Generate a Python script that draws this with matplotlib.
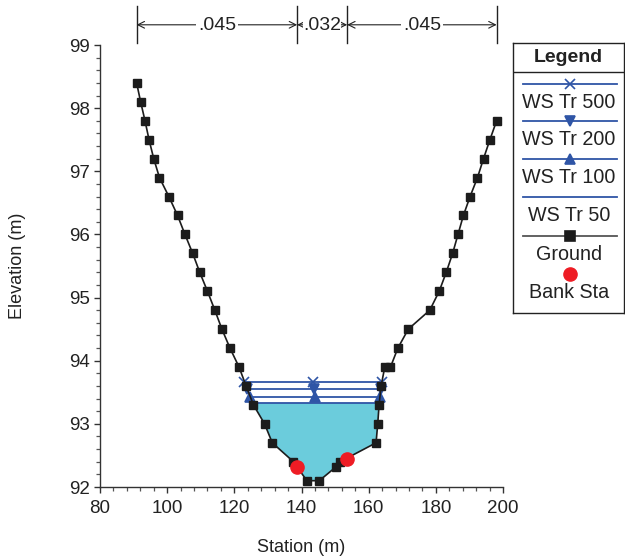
import numpy as np
import matplotlib
matplotlib.use("Agg")
import matplotlib.pyplot as plt
from matplotlib.ticker import MultipleLocator

plt.rcParams['font.family'] = ['Liberation Sans', 'DejaVu Sans']

# ---- data ----
ground_sta = [90.9, 92.1, 93.4, 94.6, 96.0, 97.7, 100.5, 103.1, 105.3, 107.6, 109.7,
              112.0, 114.2, 116.3, 118.7, 121.4, 123.5, 125.7, 129.0, 131.3, 137.6,
              141.6, 145.3, 150.3, 151.5, 162.2, 162.7, 163.1, 163.7, 164.8, 166.5,
              168.7, 171.8, 178.2, 181.0, 183.1, 185.0, 186.6, 188.2, 190.2, 192.4,
              194.2, 196.1, 198.1]
ground_elev = [98.40, 98.10, 97.80, 97.50, 97.20, 96.90, 96.60, 96.30, 96.00, 95.70, 95.40,
               95.10, 94.80, 94.50, 94.20, 93.90, 93.60, 93.30, 93.00, 92.70, 92.40,
               92.10, 92.10, 92.32, 92.40, 92.70, 93.00, 93.30, 93.60, 93.90, 93.90,
               94.20, 94.50, 94.80, 95.10, 95.40, 95.70, 96.00, 96.30, 96.60, 96.90,
               97.20, 97.50, 97.80]
bank_sta = [138.7, 153.6]
bank_elev = [92.31, 92.45]
ws_names = ['WS Tr 500', 'WS Tr 200', 'WS Tr 100', 'WS Tr 50']
ws_elev = [93.67, 93.55, 93.43, 93.33]
ws_markers = ['x', 'v', '^', None]
mann_n = ['.045', '.032', '.045']

WS_COLOR = '#2F55A6'
FILL_COLOR = '#6BCCDC'
GROUND_COLOR = '#1c1c1c'
BANK_COLOR = '#EE1C24'
TXT = '#222222'

gx = np.array(ground_sta)
gy = np.array(ground_elev)
imin = int(np.argmin(gy))


def intersections(level):
    lx, ly = gx[:imin + 1], gy[:imin + 1]
    rx, ry = gx[imin:], gy[imin:]
    xl = np.interp(level, ly[::-1], lx[::-1])
    xr = np.interp(level, ry, rx)
    return xl, xr


fig = plt.figure(figsize=(6.25, 5.59), dpi=100)
ax = fig.add_axes([100 / 625, 1 - 487 / 559, 403 / 625, 442 / 559])

# water fill for lowest WS
xl, xr = intersections(ws_elev[-1])
inside = (gx > xl) & (gx < xr)
px = np.concatenate([[xl], gx[inside], [xr]])
py = np.concatenate([[ws_elev[-1]], gy[inside], [ws_elev[-1]]])
ax.fill(px, py, color=FILL_COLOR, lw=0, zorder=1)

# WS lines
for name, lev, mk in zip(ws_names, ws_elev, ws_markers):
    a, b = intersections(lev)
    xs = [a, (a + b) / 2, b]
    ax.plot(xs, [lev] * 3, color=WS_COLOR, lw=1.3, marker=mk, ms=7,
            mew=1.2, zorder=3)

# ground
ax.plot(gx, gy, color=GROUND_COLOR, lw=1.2, marker='s', ms=6.2, mfc=GROUND_COLOR,
        mec=GROUND_COLOR, zorder=4)
# bank stations
ax.plot(bank_sta, bank_elev, ls='none', marker='o', ms=9.5, color=BANK_COLOR, zorder=5)

ax.set_xlim(80, 200)
ax.set_ylim(92, 99)
ax.xaxis.set_major_locator(MultipleLocator(20))
ax.xaxis.set_minor_locator(MultipleLocator(4))
ax.yaxis.set_major_locator(MultipleLocator(1))
ax.yaxis.set_minor_locator(MultipleLocator(0.2))
for s in ['top', 'right']:
    ax.spines[s].set_visible(False)
for s in ['left', 'bottom']:
    ax.spines[s].set_color('#333333')
    ax.spines[s].set_linewidth(1.0)
ax.tick_params(which='major', direction='out', length=4.5, width=1.0, colors='#333333',
               labelsize=13.5, labelcolor=TXT, pad=2.5)
ax.tick_params(axis='x', which='major', pad=5)
ax.tick_params(which='minor', direction='out', length=3, width=0.9, colors='#555555')
ax.set_xlabel('Station (m)', fontsize=13, color=TXT, labelpad=16)
ax.set_ylabel('Elevation (m)', fontsize=13, color=TXT, labelpad=31)

# Manning's n annotation above plot
bounds = [gx[0], bank_sta[0], bank_sta[1], gx[-1]]
for b in bounds:
    ax.plot([b, b], [99.03, 99.62], color=TXT, lw=1.0, clip_on=False)
for i, txt in enumerate(mann_n):
    a, b = bounds[i], bounds[i + 1]
    ax.annotate('', xy=(a, 99.32), xytext=(b, 99.32), xycoords='data',
                arrowprops=dict(arrowstyle='<->', color=TXT, lw=0.8,
                                shrinkA=0, shrinkB=0, mutation_scale=12),
                annotation_clip=False)
    ax.text((a + b) / 2, 99.31, txt, ha='center', va='center', fontsize=14,
            color=TXT, clip_on=False,
            bbox=dict(facecolor='white', edgecolor='none', pad=1.5 if i != 1 else 0.1))

# custom legend box
lax = fig.add_axes([513 / 625, 1 - 313 / 559, 111 / 625, 270 / 559])
lax.set_xlim(0, 111)
lax.set_ylim(270, 0)
lax.set_xticks([])
lax.set_yticks([])
for s in lax.spines.values():
    s.set_linewidth(1.0)
    s.set_color(TXT)
lax.text(55.5, 15, 'Legend', ha='center', va='center', fontsize=14, fontweight='bold',
         color=TXT)
lax.plot([0, 111], [29, 29], color=TXT, lw=1.0)
entries = [(WS_COLOR, 'x', ws_names[0]), (WS_COLOR, 'v', ws_names[1]),
           (WS_COLOR, '^', ws_names[2]), (WS_COLOR, None, ws_names[3]),
           ('#555555', 's', 'Ground'), (None, 'o', 'Bank Sta')]
ys_line = [41, 78, 116, 154, 193, 231]
for (col, mk, lab), yl in zip(entries, ys_line):
    if col is not None:
        mc = GROUND_COLOR if mk == 's' else WS_COLOR
        lax.plot([10, 104], [yl, yl], color=col, lw=1.3)
        if mk is not None:
            lax.plot([57], [yl], marker=mk, ms=7, color=mc, mew=1.2)
    else:
        lax.plot([57], [yl], marker='o', ms=9.5, color=BANK_COLOR, ls='none')
    lax.text(56, yl + 18.5, lab, ha='center', va='center', fontsize=14.2, color=TXT)

fig.savefig('out.png', dpi=100)
